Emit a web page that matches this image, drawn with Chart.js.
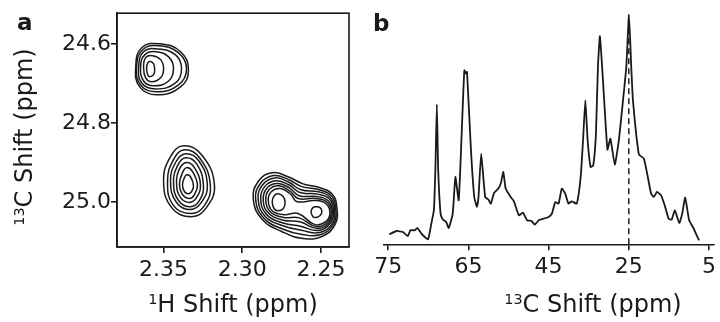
<!DOCTYPE html>
<html><head><meta charset="utf-8">
<script src="https://cdn.jsdelivr.net/npm/chart.js@4.4.1/dist/chart.umd.min.js"></script>
<style>
html,body{margin:0;padding:0;background:#fff;overflow:hidden}
#wrap{position:relative;width:720px;height:322px;overflow:hidden;font-family:"DejaVu Sans",sans-serif;color:#1a1a1a}
.pane{position:absolute;top:0;width:360px;height:322px}
.t{position:absolute;white-space:nowrap;font-size:24px;line-height:24px;text-align:center}
.t sup{font-size:0.6em;line-height:0;vertical-align:0.55em}
.lbl{position:absolute;font-weight:bold;font-size:23px;line-height:24px}
</style></head><body>
<div id="wrap">
<div class="pane" style="left:0"><canvas id="ca"></canvas></div>
<div class="pane" style="left:360px"><canvas id="cb"></canvas></div>
<div class="lbl" style="left:17px;top:10px">a</div>
<div class="lbl" style="left:373px;top:11px">b</div>
<div class="t" style="left:83px;top:292px;width:300px"><sup>1</sup>H Shift (ppm)</div>
<div class="t" style="left:443px;top:292px;width:300px"><sup>13</sup>C Shift (ppm)</div>
<div class="t" style="left:-96px;top:125px;width:240px;transform:rotate(-90deg)"><sup>13</sup>C Shift (ppm)</div>
</div>
<script>
// ---------- Panel a: HSQC contours (1H ppm, 13C ppm) ----------
const hTicks = [2.35, 2.30, 2.25];
const cTicksA = [24.6, 24.8, 25.0];

const peak1Contours = [
 [[2.3608,24.663],[2.3601,24.648],[2.3582,24.645],[2.3563,24.651],[2.3557,24.666],[2.3563,24.678],[2.3589,24.683],[2.3601,24.678]],
 [[2.3627,24.661],[2.3614,24.635],[2.3570,24.630],[2.3519,24.640],[2.3500,24.663],[2.3519,24.686],[2.3576,24.696],[2.3614,24.686]],
 [[2.3646,24.658],[2.3620,24.628],[2.3551,24.620],[2.3468,24.633],[2.3437,24.663],[2.3468,24.694],[2.3563,24.706],[2.3627,24.694]],
 [[2.3658,24.658],[2.3627,24.620],[2.3538,24.613],[2.3424,24.628],[2.3386,24.663],[2.3424,24.699],[2.3551,24.714],[2.3639,24.699]],
 [[2.3671,24.658],[2.3633,24.615],[2.3532,24.605],[2.3405,24.623],[2.3354,24.663],[2.3405,24.704],[2.3544,24.721],[2.3646,24.704]],
 [[2.3677,24.658],[2.3639,24.610],[2.3525,24.600],[2.3392,24.620],[2.3342,24.666],[2.3392,24.709],[2.3544,24.729],[2.3652,24.709]]
];
const peak2Contours = [
 [[2.3354,24.931],[2.3329,24.936],[2.3310,24.959],[2.3323,24.974],[2.3342,24.979],[2.3367,24.974],[2.3380,24.956],[2.3367,24.938]],
 [[2.3354,24.913],[2.3316,24.923],[2.3285,24.956],[2.3304,24.981],[2.3335,24.991],[2.3380,24.981],[2.3399,24.954],[2.3380,24.926]],
 [[2.3354,24.900],[2.3304,24.913],[2.3266,24.956],[2.3291,24.989],[2.3335,25.001],[2.3392,24.989],[2.3418,24.951],[2.3399,24.916]],
 [[2.3361,24.888],[2.3291,24.903],[2.3247,24.956],[2.3272,24.996],[2.3329,25.012],[2.3405,24.996],[2.3437,24.951],[2.3411,24.908]],
 [[2.3361,24.878],[2.3278,24.895],[2.3222,24.956],[2.3260,25.001],[2.3329,25.019],[2.3418,25.001],[2.3456,24.948],[2.3424,24.900]],
 [[2.3367,24.868],[2.3272,24.888],[2.3203,24.956],[2.3241,25.009],[2.3323,25.029],[2.3437,25.009],[2.3475,24.948],[2.3437,24.893]],
 [[2.3373,24.858],[2.3260,24.880],[2.3177,24.956],[2.3228,25.014],[2.3323,25.037],[2.3449,25.014],[2.3500,24.948],[2.3456,24.885]]
];
const peak3Contours = [
 [[2.2772,24.979],[2.2740,24.986],[2.2728,25.001],[2.2740,25.017],[2.2772,25.022],[2.2797,25.017],[2.2810,24.999],[2.2797,24.984]],
 [[2.2532,25.012],[2.2506,25.014],[2.2494,25.024],[2.2506,25.034],[2.2532,25.039],[2.2551,25.037],[2.2563,25.024],[2.2551,25.014]],
 [[2.2835,24.996],[2.2816,24.974],[2.2759,24.966],[2.2696,24.979],[2.2652,24.999],[2.2538,24.996],[2.2468,25.004],[2.2443,25.027],[2.2468,25.049],[2.2538,25.057],[2.2646,25.029],[2.2734,25.032],[2.2810,25.022]],
 [[2.2851,24.996],[2.2830,24.969],[2.2768,24.959],[2.2698,24.972],[2.2646,24.991],[2.2533,24.991],[2.2462,25.000],[2.2435,25.025],[2.2459,25.051],[2.2530,25.062],[2.2640,25.040],[2.2736,25.039],[2.2821,25.025]],
 [[2.2867,24.996],[2.2844,24.965],[2.2777,24.953],[2.2701,24.964],[2.2639,24.984],[2.2527,24.986],[2.2456,24.996],[2.2428,25.022],[2.2449,25.052],[2.2523,25.067],[2.2635,25.050],[2.2739,25.046],[2.2831,25.029]],
 [[2.2883,24.995],[2.2858,24.961],[2.2785,24.946],[2.2702,24.957],[2.2633,24.976],[2.2522,24.980],[2.2449,24.991],[2.2421,25.020],[2.2440,25.053],[2.2516,25.072],[2.2630,25.061],[2.2740,25.053],[2.2842,25.033]],
 [[2.2899,24.994],[2.2872,24.957],[2.2793,24.939],[2.2704,24.950],[2.2627,24.969],[2.2517,24.974],[2.2443,24.987],[2.2413,25.018],[2.2430,25.055],[2.2508,25.077],[2.2625,25.071],[2.2742,25.060],[2.2853,25.037]],
 [[2.2915,24.994],[2.2885,24.953],[2.2802,24.933],[2.2707,24.943],[2.2620,24.961],[2.2511,24.969],[2.2437,24.983],[2.2406,25.016],[2.2421,25.056],[2.2501,25.082],[2.2619,25.082],[2.2745,25.068],[2.2863,25.041]],
 [[2.2930,24.994],[2.2899,24.948],[2.2810,24.926],[2.2709,24.936],[2.2614,24.954],[2.2506,24.964],[2.2430,24.979],[2.2399,25.014],[2.2411,25.057],[2.2494,25.087],[2.2614,25.092],[2.2747,25.075],[2.2873,25.044]]
];

// ---------- Panel b: 1D 13C spectrum ----------
const tickValuesB = [85, 65, 45, 25, 5];
const tickLabelsB = ['75', '65', '45', '25', '5'];
const markerPpm = 25;
const markerTop = 224;
const specPpm = [84.75,82.92,81.36,80.13,79.46,78.39,77.73,76.74,75.10,74.26,73.62,73.25,72.88,72.55,71.96,71.39,70.55,69.91,68.92,68.25,67.43,66.69,66.02,65.60,65.35,64.37,63.55,62.88,62.49,61.82,60.83,60.01,59.42,58.60,57.54,56.94,56.30,55.71,54.47,53.65,52.42,51.43,50.36,49.28,48.46,47.47,46.23,45.00,44.18,43.34,42.52,41.70,40.86,40.05,39.23,37.99,37.00,36.41,35.84,35.27,34.53,33.86,33.19,32.70,32.20,31.39,30.32,29.58,28.49,27.48,26.44,25.62,24.95,24.38,23.96,22.48,21.24,20.25,19.44,18.77,17.95,16.96,16.12,15.06,14.32,13.50,12.41,11.67,10.93,9.94,8.87,8.06,7.46];
const specInt = [10,13.3,12.3,8.3,14,14,16.3,10.7,5,20.7,34,75,140,75,31,24.7,22.3,16.3,30.7,67.3,44,110.7,174,170.7,172.3,94,47.3,37.3,47.3,90.7,47.3,44.7,40.7,51.3,55.7,60.7,72.3,55.7,47.3,43,29,31.7,24,23.3,19.7,24,25.7,27.3,30.7,42.3,40.7,55.7,50.7,40.7,43,40.7,67.3,104,144,104,77.3,79,110.7,177,208,160.7,94.7,105.7,79.7,104,144,177.3,229.7,177,144,90,85.7,67.3,50.7,47.3,52.3,49,40,25.7,24.7,34,21.3,30.7,46.7,24,16.3,9,4];

const INK = '#1a1a1a';
const FAM = '"DejaVu Sans", sans-serif';
const tickFont = {family: FAM, size: 22};

const loopPlugin = {
  id: 'loop',
  afterDatasetsUpdate(chart) {
    chart.getSortedVisibleDatasetMetas().forEach(m => {
      if (m.dataset) { m.dataset._loop = true; m.dataset._fullLoop = true; }
    });
  }
};
const boxPlugin = {
  id: 'box',
  afterDraw(chart) {
    const {ctx, chartArea: a} = chart;
    ctx.save();
    ctx.strokeStyle = INK; ctx.lineWidth = 1.6;
    ctx.strokeRect(a.left, a.top, a.right - a.left, a.bottom - a.top);
    ctx.restore();
  }
};

const allContours = [...peak1Contours, ...peak2Contours, ...peak3Contours];
new Chart(document.getElementById('ca'), {
  type: 'scatter',
  data: {datasets: allContours.map(c => ({
    data: c.map(p => ({x: p[0], y: p[1]})),
    showLine: true, spanGaps: true, borderColor: INK, borderWidth: 1.5,
    pointRadius: 0, tension: 0.45, fill: false
  }))},
  options: {
    responsive: true, maintainAspectRatio: false, animation: false, devicePixelRatio: 1, events: [],
    layout: {padding: {top: 13, right: 11, left: 0, bottom: 0}},
    plugins: {legend: {display: false}, tooltip: {enabled: false}},
    scales: {
      x: {type: 'linear', reverse: true, min: 2.2322, max: 2.3796,
        afterBuildTicks: s => { s.ticks = hTicks.map(v => ({value: v})); },
        afterFit: s => { s.height = 75; },
        grid: {display: true, drawOnChartArea: false, drawTicks: true, tickLength: 6, color: INK, lineWidth: 1.6},
        border: {display: true, color: INK, width: 1.6},
        ticks: {font: tickFont, color: INK, padding: 4, maxRotation: 0, autoSkip: false, callback: v => Number(v).toFixed(2)}},
      y: {type: 'linear', reverse: true, min: 24.5227, max: 25.1136,
        afterBuildTicks: s => { s.ticks = cTicksA.map(v => ({value: v})); },
        afterFit: s => { s.width = 117; },
        grid: {display: true, drawOnChartArea: false, drawTicks: true, tickLength: 6, color: INK, lineWidth: 1.6},
        border: {display: true, color: INK, width: 1.6},
        ticks: {font: tickFont, color: INK, padding: 0, autoSkip: false, callback: v => Number(v).toFixed(1)}}
    }
  },
  plugins: [loopPlugin, boxPlugin]
});

new Chart(document.getElementById('cb'), {
  type: 'scatter',
  data: {datasets: [
    {data: specPpm.map((x, i) => ({x, y: specInt[i]})), showLine: true, borderColor: INK, borderWidth: 1.8, pointRadius: 0, tension: 0.15, fill: false},
    {data: [{x: markerPpm, y: 0}, {x: markerPpm, y: markerTop}], showLine: true, borderColor: '#2a2a2a', borderWidth: 1.6, borderDash: [6, 4], pointRadius: 0, fill: false}
  ]},
  options: {
    responsive: true, maintainAspectRatio: false, animation: false, devicePixelRatio: 1, events: [],
    layout: {padding: {top: 10, right: 3.3, left: 23.3, bottom: 0}},
    plugins: {legend: {display: false}, tooltip: {enabled: false}},
    scales: {
      x: {type: 'linear', reverse: true, min: 3.76, max: 86.24,
        afterBuildTicks: s => { s.ticks = tickValuesB.map(v => ({value: v})); },
        afterFit: s => { s.height = 77.7; },
        grid: {display: true, drawOnChartArea: false, drawTicks: true, tickLength: 6, color: INK, lineWidth: 1.6},
        border: {display: true, color: INK, width: 1.6},
        ticks: {font: tickFont, color: INK, padding: 4, maxRotation: 0, autoSkip: false,
          callback: (v, i) => tickLabelsB[i]}},
      y: {display: false, min: 0, max: 234.3}
    }
  }
});
</script>
</body></html>
